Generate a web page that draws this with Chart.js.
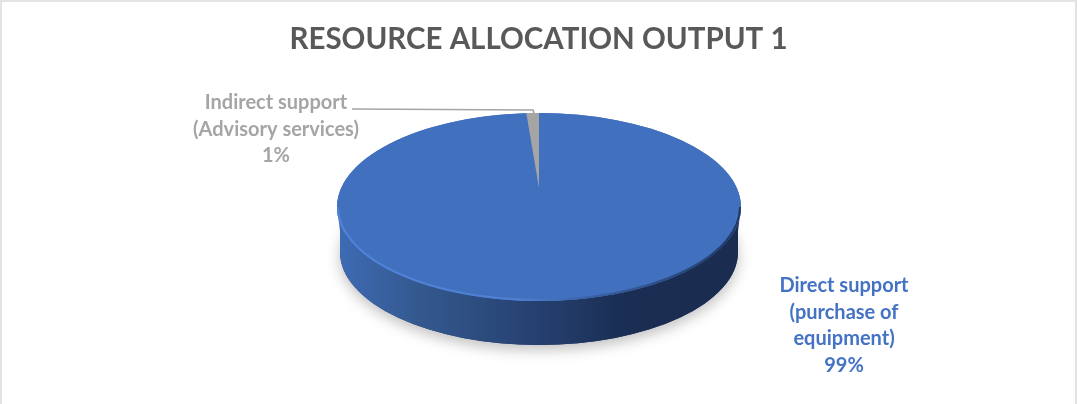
<!DOCTYPE html>
<html>
<head>
<meta charset="utf-8">
<title>Resource allocation output 1</title>
<script src="https://cdn.jsdelivr.net/npm/chart.js@4"></script>
<style>
  html, body { margin: 0; padding: 0; background: #fff; }
  #wrap { position: relative; width: 1077px; height: 404px; box-sizing: border-box; border: 2px solid #e3e3e3; border-bottom: 0; }
  canvas { display: block; position: absolute; left: -2px; top: -2px; }
</style>
</head>
<body>
<div id="wrap"><canvas id="chart1" width="1077" height="404"></canvas></div>
<script>
var chartTitle = 'RESOURCE ALLOCATION OUTPUT 1';
var categories = ['Direct support (purchase of equipment)', 'Indirect support (Advisory services)'];
var shares = [99, 1];
var sliceColors = ['#4170BF', '#A5A5A5'];
var labelColors = ['#4472C4', '#A5A5A5'];
var labelLines = [['Direct support', '(purchase of', 'equipment)'], ['Indirect support', '(Advisory services)']];
var labelSpots = [[844, 286], [276, 103]];

// where the tilted disc sits on the page
var disc = { x: 539, y: 207, rx: 202, ry: 94, depth: 45 };
var wedge = { y: 188, ry: 75 };

function placeElement(ctx, el, cy, ry) {
    ctx.save();
    ctx.translate(disc.x, cy);
    ctx.scale(disc.rx / el.outerRadius, ry / el.outerRadius);
    ctx.translate(-el.x, -el.y);
    el.draw(ctx);
    ctx.restore();
}

function drawWall(ctx) {
    var bottom = disc.y + disc.depth;
    // soft shadow under the disc
    ctx.save();
    ctx.shadowColor = 'rgba(0,0,0,0.25)';
    ctx.shadowBlur = 14;
    ctx.shadowOffsetY = 5;
    ctx.fillStyle = '#22396a';
    ctx.beginPath();
    ctx.ellipse(disc.x, bottom, disc.rx - 3, disc.ry - 1, 0, 0, Math.PI * 2);
    ctx.fill();
    ctx.restore();

    var grad = ctx.createLinearGradient(disc.x - disc.rx, 0, disc.x + disc.rx, 0);
    grad.addColorStop(0, '#3E6BB5');
    grad.addColorStop(0.2, '#34598F');
    grad.addColorStop(0.5, '#25406F');
    grad.addColorStop(0.72, '#1A2D52');
    grad.addColorStop(1, '#1A2C50');
    ctx.fillStyle = grad;
    ctx.beginPath();
    ctx.moveTo(disc.x - disc.rx + 3, disc.y + 24);
    ctx.ellipse(disc.x, bottom, disc.rx - 3, disc.ry - 1, 0, Math.PI, 0, true);
    ctx.lineTo(disc.x + disc.rx - 3, disc.y + 24);
    ctx.ellipse(disc.x, disc.y, disc.rx, disc.ry, 0, 0, Math.PI);
    ctx.closePath();
    ctx.fill();
}

function drawRim(ctx) {
    var grad = ctx.createLinearGradient(disc.x - disc.rx, 0, disc.x + disc.rx, 0);
    grad.addColorStop(0, '#4F82D8');
    grad.addColorStop(0.45, '#4F80D0');
    grad.addColorStop(0.62, '#3A62A6');
    grad.addColorStop(1, '#203762');
    ctx.strokeStyle = grad;
    ctx.lineWidth = 2;
    ctx.beginPath();
    ctx.ellipse(disc.x, disc.y, disc.rx - 1, disc.ry - 1, 0, 0, Math.PI);
    ctx.stroke();
}

var discPlugin = {
    id: 'disc',
    beforeDatasetDraw: function(chart, args) {
        var ctx = chart.ctx;
        var arcs = args.meta.data;
        drawWall(ctx);
        ctx.fillStyle = sliceColors[0];
        ctx.beginPath();
        ctx.ellipse(disc.x, disc.y, disc.rx, disc.ry, 0, 0, Math.PI * 2);
        ctx.fill();
        placeElement(ctx, arcs[0], disc.y, disc.ry);
        placeElement(ctx, arcs[1], wedge.y, wedge.ry);
        drawRim(ctx);
        return false;
    },
    afterDraw: function(chart) {
        var ctx = chart.ctx;
        // leader line of the small slice
        ctx.strokeStyle = '#A5A5A5';
        ctx.lineWidth = 1.75;
        ctx.beginPath();
        ctx.moveTo(352, 109);
        ctx.lineTo(533, 110);
        ctx.lineTo(534, 113);
        ctx.stroke();

        ctx.font = 'bold 20px Lato';
        ctx.textAlign = 'center';
        ctx.textBaseline = 'middle';
        for (var i = 0; i < categories.length; i++) {
            ctx.fillStyle = labelColors[i];
            var lines = labelLines[i].concat(shares[i] + '%');
            for (var j = 0; j < lines.length; j++) {
                ctx.fillText(lines[j], labelSpots[i][0], labelSpots[i][1] + j * 26.5);
            }
        }
    }
};

var ctx1 = document.getElementById('chart1').getContext('2d');
var chart1 = new Chart(ctx1, {
    type: 'pie',
    data: {
        labels: categories,
        datasets: [{
            data: shares,
            backgroundColor: sliceColors,
            borderWidth: 0
        }]
    },
    options: {
        responsive: false,
        animation: false,
        plugins: {
            legend: { display: false },
            tooltip: { enabled: false },
            title: {
                display: true,
                text: chartTitle,
                color: '#595959',
                font: { family: 'Lato', size: 29.5, weight: 'bold' },
                padding: { top: 22, bottom: 10 }
            }
        }
    },
    plugins: [discPlugin]
});
</script>
</body>
</html>
